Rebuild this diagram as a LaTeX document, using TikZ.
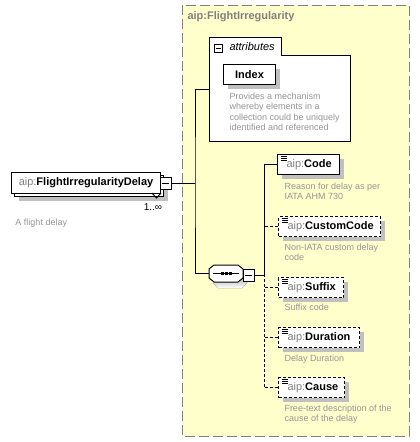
\documentclass[tikz,border=0pt]{standalone}
\usepackage{fontspec}
\setmainfont{Liberation Sans}
\usepackage{xcolor}
\usetikzlibrary{shadows,positioning}
\definecolor{bgyellow}{RGB}{255,255,204}
\definecolor{txtgray}{RGB}{128,128,128}
\definecolor{dscgray}{RGB}{150,150,150}
\definecolor{shade}{RGB}{192,192,192}
\tikzset{
  elem/.style={draw,fill=white,anchor=north west,minimum height=20pt,inner sep=0pt,
    text width=#1,align=left,font=\fontsize{11}{13}\selectfont,
    general shadow={fill=shade,shadow xshift=4pt,shadow yshift=-4pt},
    path picture={\foreach \k in {2,4,6}{\draw[solid,line width=0.8pt]
      ([xshift=3pt,yshift=-\k pt]path picture bounding box.north west) -- ++(6pt,0pt);}}},
  optelem/.style={elem=#1,dash pattern=on 3pt off 2pt},
  descr/.style={anchor=north west,align=left,inner sep=0pt,text=dscgray,
    font=\fontsize{9}{10.6}\selectfont},
  collapse/.style={draw,fill=white,minimum width=11pt,minimum height=12pt,inner sep=0pt,
    path picture={\draw ([xshift=2pt]path picture bounding box.west) -- ([xshift=-2pt]path picture bounding box.east);}}
}
\newcommand{\pfx}[1]{\hspace*{9pt}\textcolor{txtgray}{aip:}\textbf{#1}}
\begin{document}
\begin{tikzpicture}[x=1pt,y=-1pt,line width=1pt]
\useasboundingbox (0,0) rectangle (420,442);
% complex type frame
\draw[txtgray,fill=bgyellow,dash pattern=on 10pt off 4pt] (182,5) rectangle (409,436);
\node[anchor=west,inner sep=0pt,text=txtgray,font=\fontsize{11}{13}\selectfont\bfseries] (ctype) at (187,17) {aip:FlightIrregularity};
% attributes
\draw[fill=white] (209,141) -- (209,37) -- (281,37) -- (281,55) -- (350,55) -- (350,141) -- cycle;
\node[draw,fill=white,minimum size=8.5pt,inner sep=0pt,
  path picture={\draw ([xshift=1.5pt]path picture bounding box.west) -- ([xshift=-1.5pt]path picture bounding box.east);}] (attrmin) at (218.5,48.5) {};
\node[anchor=west,inner sep=0pt,font=\fontsize{11}{13}\selectfont\itshape] (attrlbl) at (229,47) {attributes};
\node[draw,fill=white,anchor=north west,minimum width=52pt,minimum height=20pt,inner sep=0pt,
  font=\fontsize{11}{13}\selectfont\bfseries,
  general shadow={fill=shade,shadow xshift=4pt,shadow yshift=-4pt}] (idx) at (223,64) {Index};
\node[descr] (idxd) at (229,92) {Provides a mechanism\\whereby elements in a\\collection could be uniquely\\identified and referenced};
\coordinate (attrs) at (209,89);
% element
\node[draw,fill=white,anchor=north west,minimum width=149pt,minimum height=21pt,inner sep=0pt,
  font=\fontsize{11}{13}\selectfont,
  general shadow={fill=shade,shadow xshift=7pt,shadow yshift=-7pt},
  general shadow={draw=black,fill=white,shadow xshift=3pt,shadow yshift=-3pt}] (mainel) at (11,172) {\textcolor{txtgray}{aip:}\textbf{FlightIrregularityDelay}};
\node[collapse] (mainmin) at (165.5,183) {};
\draw (152,193) -- (156.5,198) -- (161,193);
\node[inner sep=0pt,font=\fontsize{10}{12}\selectfont] (mult) at (153,207) {1..∞};
\node[descr] (maind) at (15,218) {A flight delay};
\coordinate (jn) at (195,183);
\draw (mainmin.east) -- (jn);
% sequence
\fill[shade] (213,274) -- (218,270) -- (242,270) -- (247,274) -- (247,283) -- (242,288) -- (218,288) -- (213,283) -- cycle;
\draw[fill=white] (209,269) -- (214,265) -- (238,265) -- (243,269) -- (243,278) -- (238,282) -- (214,282) -- (209,278) -- cycle;
\coordinate (seq) at (209,273.5);
\draw (213,273.5) -- (239,273.5);
\foreach \d in {222,226,230} \fill (\d-1.5,272) rectangle ++(3,3);
\node[collapse] (seqmin) at (248.5,275) {};
\coordinate (seqbar) at (264,275);
\draw (attrs) -| (jn) |- (seq);
\draw (seqmin.east) -- (seqbar);
% children
\node[elem=62pt] (code) at (277,154) {\pfx{Code}};
\node[descr] (coded) at (284,182) {Reason for delay as per\\IATA AHM 730};
\node[optelem=102pt] (customcode) at (278,216) {\pfx{CustomCode}};
\node[descr] (customcoded) at (284,243) {Non-IATA custom delay\\code};
\node[optelem=65pt] (suffix) at (278,277) {\pfx{Suffix}};
\node[descr] (suffixd) at (284,303.5) {Suffix code};
\node[optelem=81pt] (duration) at (278,327) {\pfx{Duration}};
\node[descr] (durationd) at (284,354.5) {Delay Duration};
\node[optelem=66pt] (cause) at (278,377) {\pfx{Cause}};
\node[descr] (caused) at (284,404) {Free-text description of the\\cause of the delay};
\draw (code.west) -| (seqbar);
\foreach \c in {customcode,suffix,duration,cause}
  \draw[dash pattern=on 3pt off 2pt] (\c.west) -| (seqbar);
\end{tikzpicture}
\end{document}
